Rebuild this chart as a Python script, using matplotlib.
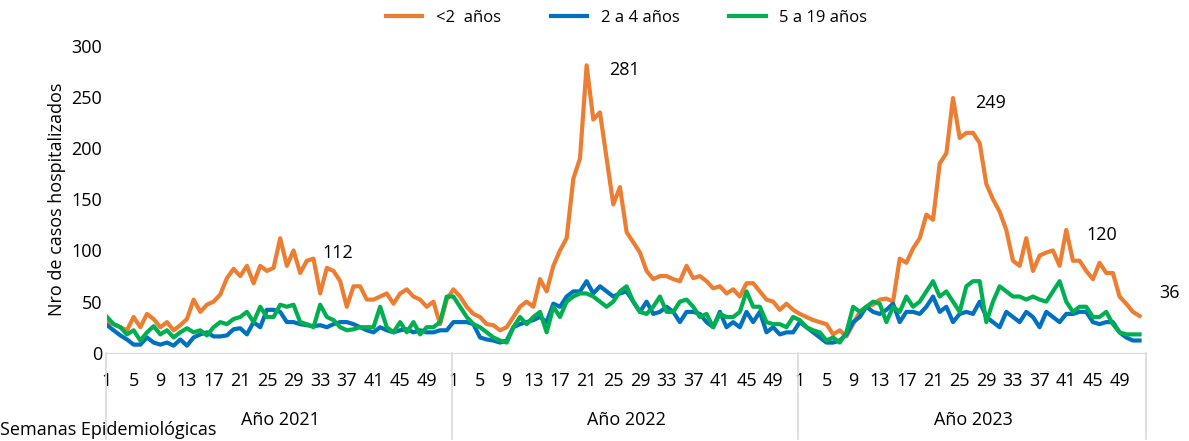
import matplotlib.pyplot as plt
import matplotlib.transforms as mtransforms
import numpy as np

plt.rcParams["font.family"] = ["Open Sans", "DejaVu Sans"]

years = ["Año 2021", "Año 2022", "Año 2023"]
week_ticks = list(range(1, 53, 4))

menor2 = [30, 28, 25, 22, 35, 25, 38, 33, 25, 30, 22, 27, 33, 52, 40, 47, 50, 57, 73, 82, 75, 85, 68, 85, 80, 83,
          112, 85, 100, 78, 90, 92, 58, 83, 80, 70, 45, 65, 65, 52, 52, 55, 58, 48, 58, 62, 55, 52, 45, 50, 28, 52,
          62, 55, 45, 38, 35, 28, 27, 22, 25, 35, 45, 50, 45, 72, 60, 85, 100, 112, 170, 190, 281, 228, 235, 190,
          145, 162, 118, 108, 98, 80, 72, 75, 75, 72, 70, 85, 73, 75, 70, 63, 65, 58, 62, 55, 68, 68, 60, 52, 50, 42,
          48, 42,
          38, 35, 32, 30, 28, 18, 22, 16, 28, 40, 45, 47, 52, 53, 50, 92, 88, 102, 112, 135, 130, 185, 195, 249, 210,
          215, 215, 205, 165, 150, 138, 120, 90, 85, 112, 80, 95, 98, 100, 85, 120, 90, 90, 80, 72, 88, 78, 78, 55,
          48, 40, 36]
de2a4 = [27, 22, 17, 13, 8, 8, 15, 10, 8, 10, 7, 13, 7, 15, 18, 20, 16, 16, 17, 23, 24, 18, 30, 25, 42, 42, 40, 30,
         30, 28, 27, 26, 27, 25, 28, 30, 30, 28, 25, 22, 20, 25, 22, 20, 22, 23, 20, 22, 20, 20, 22, 22,
         30, 30, 30, 28, 15, 13, 12, 10, 12, 25, 28, 30, 32, 35, 30, 48, 45, 55, 60, 60, 70, 58, 65, 60, 55, 58, 60,
         50, 40, 50, 38, 40, 45, 40, 30, 40, 40, 38, 30, 25, 40, 25, 30, 25, 40, 30, 40, 20, 25, 18, 20, 20,
         30, 25, 20, 15, 10, 10, 12, 18, 30, 35, 45, 40, 38, 42, 48, 30, 40, 40, 38, 45, 55, 40, 45, 30, 38, 40, 38,
         50, 35, 30, 25, 40, 35, 30, 40, 35, 25, 40, 35, 30, 38, 38, 40, 40, 30, 28, 30, 30, 20, 15, 12, 12]
de5a19 = [35, 28, 25, 18, 22, 12, 20, 26, 18, 22, 15, 20, 24, 20, 22, 17, 25, 30, 28, 33, 35, 40, 30, 45, 35, 35, 47,
          45, 47, 30, 28, 25, 47, 35, 32, 25, 22, 23, 25, 25, 25, 45, 25, 20, 30, 20, 30, 18, 25, 25, 30, 55,
          55, 45, 35, 28, 25, 20, 15, 12, 10, 25, 35, 28, 35, 40, 20, 45, 35, 50, 55, 58, 58, 55, 50, 45, 50, 60, 65,
          50, 40, 38, 45, 55, 40, 40, 50, 52, 45, 35, 38, 25, 38, 35, 35, 40, 60, 45, 45, 30, 28, 28, 25, 35,
          32, 25, 22, 20, 12, 15, 10, 20, 45, 40, 45, 50, 48, 30, 45, 40, 55, 45, 50, 60, 70, 55, 60, 50, 40, 65, 70,
          70, 30, 50, 65, 60, 55, 55, 52, 55, 52, 50, 60, 70, 50, 40, 45, 45, 35, 35, 40, 28, 20, 18, 18, 18]
annotations = [(29, "112"), (72, "281"), (127, "249"), (145, "120"), (155, "36")]

fig = plt.figure(figsize=(11.89, 4.41), dpi=100)
ax = fig.add_axes([0.09, 0.2, 0.874, 0.696])
x = np.arange(len(menor2))
ax.plot(x, menor2, color="#ED7D31", lw=3, label="<2  años")
ax.plot(x, de2a4, color="#0070C0", lw=3, label="2 a 4 años")
ax.plot(x, de5a19, color="#00B050", lw=3, label="5 a 19 años")

ax.set_xlim(0, 156)
ax.set_ylim(0, 300)
ax.set_yticks(range(0, 301, 50))
for s in ["top", "right", "left"]:
    ax.spines[s].set_visible(False)
ax.spines["bottom"].set_color("#D9D9D9")
ax.tick_params(axis="y", length=0, labelsize=13)
ax.tick_params(axis="x", length=0, labelsize=13, pad=14)
ticks = [y * 52 + w - 1 for y in range(3) for w in week_ticks]
ax.set_xticks(ticks)
ax.set_xticklabels([str(w) for y in range(3) for w in week_ticks])
ax.set_ylabel("Nro de casos hospitalizados", fontsize=13)

trans = mtransforms.blended_transform_factory(ax.transData, ax.transAxes)
for b in [-0.2, 51.8, 103.8, 156]:
    ax.plot([b, b], [0, -0.28], transform=trans, color="#D9D9D9", lw=1.2, clip_on=False)
for i, yr in enumerate(years):
    ax.text(i * 52 + 26, -0.22, yr, transform=trans, ha="center", va="center", fontsize=13)
fig.text(0.0, 0.025, "Semanas Epidemiológicas", fontsize=13, ha="left", va="center")

offsets = {29: (4, 8), 72: (4, -10), 127: (4, -10), 145: (-2, 12), 155: (2, 10)}
for idx, txt in annotations:
    dx, dy = offsets[idx]
    ax.annotate(txt, (idx, menor2[idx]), xytext=(dx + 12, dy), textcoords="offset points",
                fontsize=13, ha="left", va="bottom", annotation_clip=False)

ax.legend(loc="center", bbox_to_anchor=(0.5, 1.09), ncol=3, frameon=False, fontsize=12,
          handlelength=2.2, columnspacing=3)
fig.savefig("out.png", dpi=100)
